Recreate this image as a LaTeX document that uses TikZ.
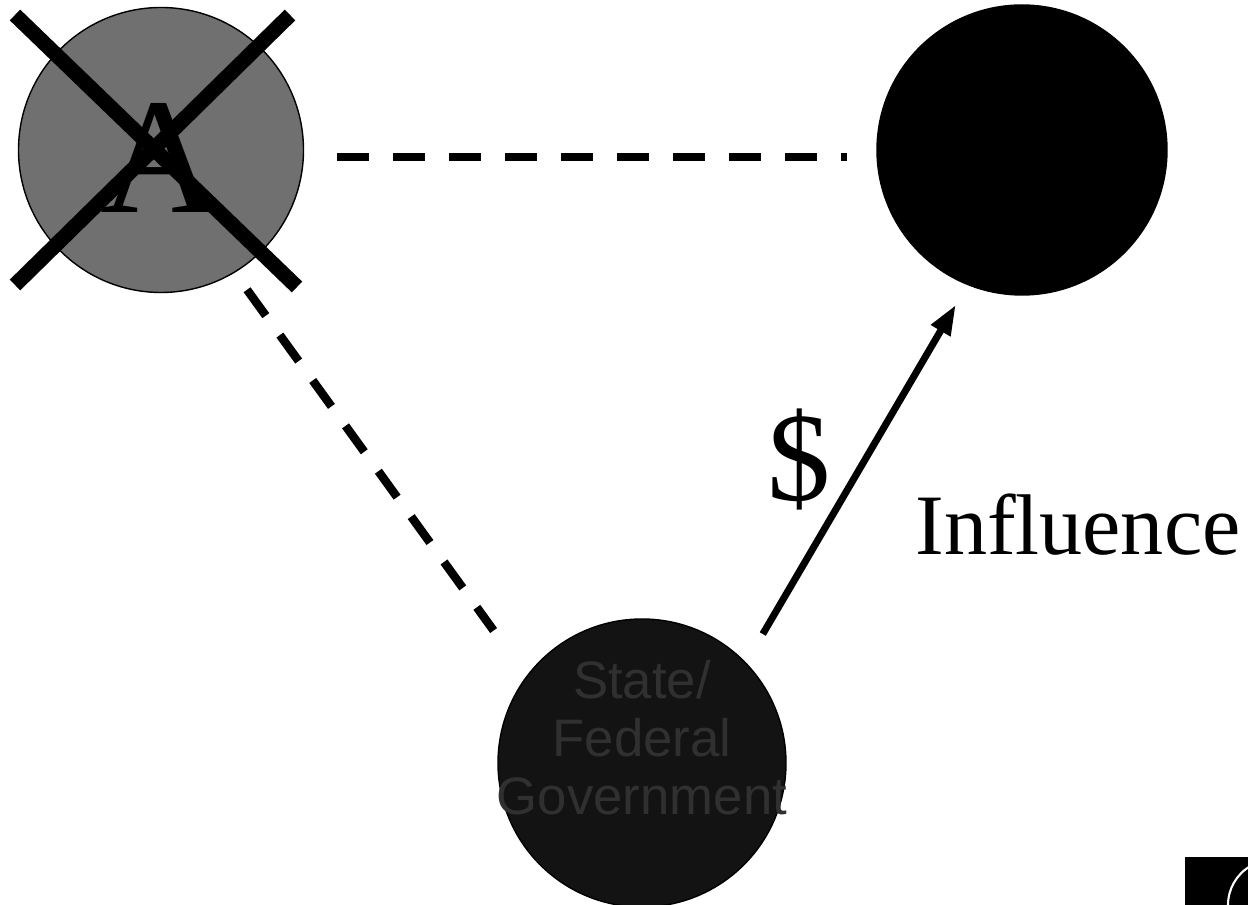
\documentclass[tikz,border=0pt]{standalone}
\usepackage{fontspec}
\setmainfont{Liberation Serif}
\setsansfont{Liberation Sans}
\usepackage{xcolor}
\usetikzlibrary{arrows.meta,positioning,calc}
\definecolor{PartyGray}{HTML}{707070}
\definecolor{GovtBlack}{HTML}{131313}
\definecolor{GovtText}{HTML}{303030}
\tikzset{
  actor/.style={circle, draw=black, line width=0.8pt, inner sep=0pt},
  dashline/.style={line width=0.17cm, draw=black, dash pattern=on 0.64cm off 0.48cm},
  crossline/.style={line width=0.3cm, draw=black},
  influence/.style={-{Triangle[length=0.6cm, width=0.42cm]}, line width=0.14cm, draw=black},
  bigtext/.style={inner sep=0pt, font=\fontsize{49}{56}\selectfont}
}

\begin{document}
\begin{tikzpicture}
    \useasboundingbox (0,0) rectangle (24.96,18.1);

    % the three actors
    \node[actor, fill=PartyGray, minimum size=5.7cm] (party) at (3.22,15.1) {};
    \node[actor, fill=black, minimum size=5.8cm] (donor) at (20.44,15.1) {};
    \node[actor, fill=GovtBlack, minimum size=5.76cm] (govt) at (12.84,2.84) {};
    \node[inner sep=0pt, anchor=base, font=\fontsize{94}{94}\selectfont] (partyA) at (3.2,13.85) {A};
    \node[inner sep=0pt, align=center, text=GovtText, font=\sffamily\fontsize{30}{33}\selectfont] (govtxt) at (12.84,3.34) {State/\\Federal\\Government};

    % crossed out
    \draw[crossline] (0.3,17.8) -- (5.94,12.36);
    \draw[crossline] (5.8,17.8) -- (0.3,12.4);

    % links
    \draw[dashline, shorten <=0.66cm, shorten >=0.58cm] ([yshift=-0.14cm]party.east) -- ([yshift=-0.14cm]donor.west);
    \draw[dashline, shorten <=0.42cm, shorten >=1.12cm] (party.-59) -- (govt.143);
    \draw[influence, shorten <=0.66cm, shorten >=0.46cm] (govt.44) -- (donor.-112);

    \node[bigtext, anchor=base, font=\fontsize{72}{72}\selectfont] (money) at (15.98,8.08) {\$};
    \node[bigtext, anchor=base west] (infl) at (18.3,7.0) {Influence};

    % logo corner
    \fill[black] (23.7,0) rectangle (24.96,0.96);
    \draw[white, line width=1.2pt] (24.56,0) arc[start angle=180, end angle=120, radius=0.9cm];
  \end{tikzpicture}
\end{document}
